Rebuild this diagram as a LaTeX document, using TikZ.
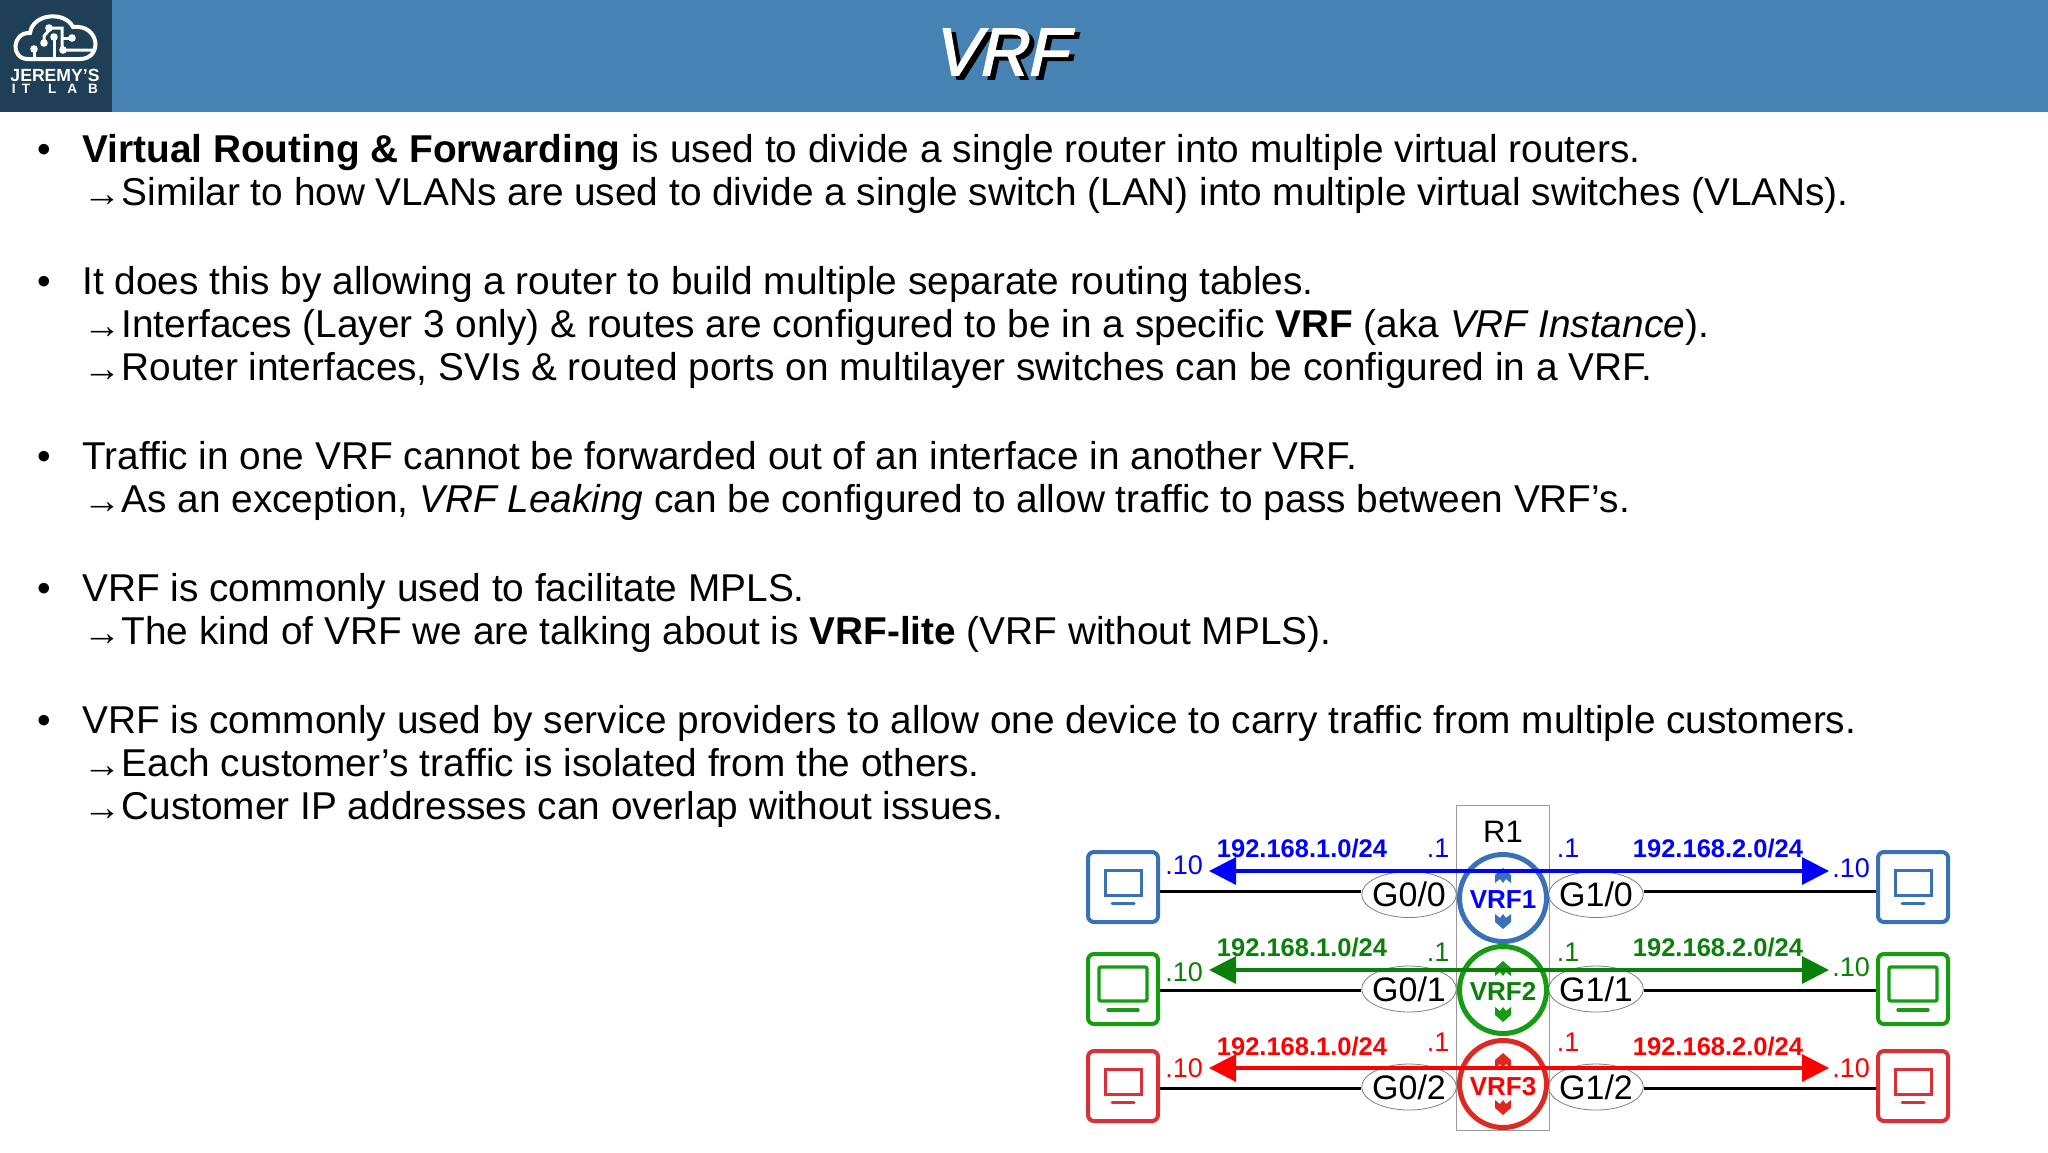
\documentclass[tikz,border=0pt]{standalone}
\usepackage{fontspec}
\setmainfont{Liberation Sans}
\newfontfamily\titlefont[FakeSlant=0.22,FakeBold=2.2]{Liberation Sans}
\usetikzlibrary{arrows.meta, shapes.geometric}
\definecolor{headblue}{HTML}{4682B4}
\definecolor{logodark}{HTML}{1E3F56}
\definecolor{ringblue}{HTML}{3A70B5}
\definecolor{ringgreen}{HTML}{159C12}
\definecolor{ringred}{HTML}{DC2A20}
\definecolor{hostred}{HTML}{DA3138}
\definecolor{flowgreen}{HTML}{0A7F0A}
\newcommand{\arrowmark}{\makebox[19.6pt][c]{\raisebox{-0.6pt}{\fontsize{19}{19}\selectfont →}}}
\tikzset{
	bodyline/.style = {anchor=base west, inner sep=0pt, font=\fontsize{19.4}{24}\selectfont},
	hostbox/.style = {draw, rectangle, rounded corners=3pt, line width=2pt, minimum size=35pt, inner sep=0pt},
	vrfring/.style = {draw, circle, line width=2.5pt, minimum size=43.5pt, inner sep=0pt, font=\fontsize{13}{14}\selectfont\bfseries},
	ifoval/.style = {draw=gray, ellipse, fill=white, line width=0.4pt, minimum width=46pt, minimum height=23pt, inner xsep=-1.7pt, inner ysep=-1pt, font=\fontsize{17}{18}\selectfont},
	netlabel/.style = {inner sep=0pt, font=\fontsize{12.75}{14}\selectfont\bfseries},
	addrlabel/.style = {inner sep=0pt, font=\fontsize{13.5}{14}\selectfont},
	link/.style = {black, line width=1.5pt},
	flow/.style = {line width=1.6pt, {Triangle[length=13.5pt,width=13.5pt]}-{Triangle[length=13.5pt,width=13.5pt]}},
	upmark/.pic = {\path[pic actions] (0,0) -- (8,7) -- (8,15) -- (3,11) -- (0,15) -- (-3,11) -- (-8,15) -- (-8,7) -- cycle;}
}
\begin{document}
\begin{tikzpicture}[x=0.5pt, y=-0.5pt]
	\useasboundingbox (0,0) rectangle (2048,1152);
	\fill[headblue] (0,0) rectangle (2048,112);
	\fill[logodark] (0,0) rectangle (112,112);
	\draw[white, line width=2pt] (28,59) .. controls (10,59) and (12,32) .. (30,33) .. controls (33,13) and (65,11) .. (73,27) .. controls (100,24) and (103,59) .. (80,59) -- cycle;
	\draw[white, line width=1.5pt] (34,49) -- (34,58);
	\draw[white, line width=1.5pt] (44,43) -- (44,36) -- (51,28) -- (62,28) -- (62,50) -- (93,50);
	\draw[white, line width=1.5pt] (54,37) -- (54,58);
	\draw[white, line width=1.5pt] (72,38) -- (62,38);
	\fill[white] (34,49) circle (1.9pt);
	\fill[white] (44,43) circle (1.9pt);
	\fill[white] (49,28) circle (1.9pt);
	\fill[white] (54,37) circle (1.9pt);
	\fill[white] (72,38) circle (1.9pt);
	\fill[white] (63,50) circle (1.9pt);
	\node[text=white, inner sep=0pt, font=\fontsize{8.8}{10}\selectfont\bfseries] (logotop) at (55,75) {JEREMY’S};
	\node[text=white, inner sep=0pt, font=\fontsize{6.8}{8}\selectfont\bfseries] (logobottom) at (55,89) {I\hspace{3pt}T\hspace{9pt}L\hspace{5.5pt}A\hspace{5.5pt}B};
	\node[text=black, inner sep=0pt, font=\fontsize{33.5}{36}\selectfont\titlefont] (titleshade) at (1005,56) {VRF};
	\node[text=white, inner sep=0pt, font=\fontsize{33.5}{36}\selectfont\titlefont] (title) at (1000,52) {VRF};

	\node[bodyline] (bulletA) at (37,162) {•};
	\node[bodyline] (lineA) at (82,162) {\textbf{Virtual Routing \& Forwarding} is used to divide a single router into multiple virtual routers.};
	\node[bodyline] (lineB) at (82,205) {\arrowmark Similar to how VLANs are used to divide a single switch (LAN) into multiple virtual switches (VLANs).};
	\node[bodyline] (bulletB) at (37,294) {•};
	\node[bodyline] (lineC) at (82,294) {It does this by allowing a router to build multiple separate routing tables.};
	\node[bodyline] (lineD) at (82,337) {\arrowmark Interfaces (Layer 3 only) \& routes are configured to be in a specific \textbf{VRF} (aka \textit{VRF Instance}).};
	\node[bodyline] (lineE) at (82,380) {\arrowmark Router interfaces, SVIs \& routed ports on multilayer switches can be configured in a VRF.};
	\node[bodyline] (bulletC) at (37,469) {•};
	\node[bodyline] (lineF) at (82,469) {Traffic in one VRF cannot be forwarded out of an interface in another VRF.};
	\node[bodyline] (lineG) at (82,512) {\arrowmark As an exception, \textit{VRF Leaking} can be configured to allow traffic to pass between VRF’s.};
	\node[bodyline] (bulletD) at (37,601) {•};
	\node[bodyline] (lineH) at (82,601) {VRF is commonly used to facilitate MPLS.};
	\node[bodyline] (lineI) at (82,644) {\arrowmark The kind of VRF we are talking about is \textbf{VRF-lite} (VRF without MPLS).};
	\node[bodyline] (bulletE) at (37,733) {•};
	\node[bodyline] (lineJ) at (82,733) {VRF is commonly used by service providers to allow one device to carry traffic from multiple customers.};
	\node[bodyline] (lineK) at (82,776) {\arrowmark Each customer’s traffic is isolated from the others.};
	\node[bodyline] (lineL) at (82,819) {\arrowmark Customer IP addresses can overlap without issues.};

	\node[draw=gray!80, line width=0.5pt, minimum width=46.5pt, minimum height=162.5pt, inner sep=0pt] (router) at (1502.5,967.5) {};
	\node[inner sep=0pt, font=\fontsize{15.5}{16}\selectfont] (routername) at (1503,832) {R1};

	\node[hostbox, draw=ringblue] (hostAl) at (1123,887) {};
	\node[hostbox, draw=ringgreen] (hostBl) at (1123,989) {};
	\node[hostbox, draw=hostred] (hostCl) at (1123,1086) {};
	\node[hostbox, draw=ringblue] (hostAr) at (1913,887) {};
	\node[hostbox, draw=ringgreen] (hostBr) at (1913,989) {};
	\node[hostbox, draw=hostred] (hostCr) at (1913,1086) {};

	\draw[ringblue, line width=1.5pt] (1105,870) rectangle (1141,895);
	\draw[ringblue, line width=1.5pt, line cap=round] (1112,903) -- (1134,903);
	\draw[ringgreen, line width=1.7pt, rounded corners=1pt] (1099,967) rectangle (1147,1001);
	\draw[ringgreen, line width=1.7pt, line cap=round] (1108,1010) -- (1138,1010);
	\draw[hostred, line width=1.5pt] (1105,1069) rectangle (1141,1094);
	\draw[hostred, line width=1.5pt, line cap=round] (1112,1102) -- (1134,1102);
	\draw[ringblue, line width=1.5pt] (1895,870) rectangle (1931,895);
	\draw[ringblue, line width=1.5pt, line cap=round] (1902,903) -- (1924,903);
	\draw[ringgreen, line width=1.7pt, rounded corners=1pt] (1889,967) rectangle (1937,1001);
	\draw[ringgreen, line width=1.7pt, line cap=round] (1898,1010) -- (1928,1010);
	\draw[hostred, line width=1.5pt] (1895,1069) rectangle (1931,1094);
	\draw[hostred, line width=1.5pt, line cap=round] (1902,1102) -- (1924,1102);

	\node[ifoval] (portAl) at (1409,894.5) {G0/0};
	\node[ifoval] (portBl) at (1409,989) {G0/1};
	\node[ifoval] (portCl) at (1409,1087) {G0/2};
	\node[ifoval] (portAr) at (1596,894.5) {G1/0};
	\node[ifoval] (portBr) at (1596,989) {G1/1};
	\node[ifoval] (portCr) at (1596,1087) {G1/2};

	\coordinate (rowA) at (1300,891);
	\coordinate (rowB) at (1300,990);
	\coordinate (rowC) at (1300,1088);
	\draw[link] (hostAl.east |- rowA) -- (portAl.west |- rowA);
	\draw[link] (hostBl.east |- rowB) -- (portBl.west |- rowB);
	\draw[link] (hostCl.east |- rowC) -- (portCl.west |- rowC);
	\draw[link] (portAr.east |- rowA) -- (hostAr.west |- rowA);
	\draw[link] (portBr.east |- rowB) -- (hostBr.west |- rowB);
	\draw[link] (portCr.east |- rowC) -- (hostCr.west |- rowC);

	\node[vrfring, draw=ringblue, text=blue] (vrfA) at (1503,898) {\raisebox{-0.7pt}[\height][\depth]{VRF1}};
	\node[vrfring, draw=ringgreen, text=flowgreen] (vrfB) at (1503,990) {\raisebox{-0.7pt}[\height][\depth]{VRF2}};
	\node[vrfring, draw=ringred, text=red] (vrfC) at (1503,1084) {\raisebox{-1.4pt}[\height][\depth]{VRF3}};

	\pic[fill=ringblue] at (1503,868) {upmark};
	\pic[fill=ringblue, rotate=180] at (1503,929) {upmark};
	\pic[fill=ringgreen] at (1503,961) {upmark};
	\pic[fill=ringgreen, rotate=180] at (1503,1022) {upmark};
	\pic[fill=ringred] at (1503,1053) {upmark};
	\pic[fill=ringred, rotate=180] at (1503,1115) {upmark};

	\coordinate (endAl) at (1209,871);
	\coordinate (endAr) at (1829,871);
	\coordinate (endBl) at (1209,970);
	\coordinate (endBr) at (1829,970);
	\coordinate (endCl) at (1209,1068);
	\coordinate (endCr) at (1829,1068);
	\draw[flow, blue] (endAl) -- (endAr);
	\draw[flow, flowgreen] (endBl) -- (endBr);
	\draw[flow, red] (endCl) -- (endCr);

	\node[netlabel, text=blue] (netAl) at (1302,848) {192.168.1.0/24};
	\node[netlabel, text=flowgreen] (netBl) at (1302,947) {192.168.1.0/24};
	\node[netlabel, text=red] (netCl) at (1302,1046) {192.168.1.0/24};
	\node[netlabel, text=blue] (netAr) at (1718,848) {192.168.2.0/24};
	\node[netlabel, text=flowgreen] (netBr) at (1718,947) {192.168.2.0/24};
	\node[netlabel, text=red] (netCr) at (1718,1046) {192.168.2.0/24};

	\node[addrlabel, text=blue] (gwAl) at (1438,848) {.1};
	\node[addrlabel, text=flowgreen] (gwBl) at (1438,952) {.1};
	\node[addrlabel, text=red] (gwCl) at (1438,1042) {.1};
	\node[addrlabel, text=blue] (gwAr) at (1568,848) {.1};
	\node[addrlabel, text=flowgreen] (gwBr) at (1568,952) {.1};
	\node[addrlabel, text=red] (gwCr) at (1568,1042) {.1};
	\node[addrlabel, text=blue] (addrAl) at (1184,865) {.10};
	\node[addrlabel, text=flowgreen] (addrBl) at (1184,972) {.10};
	\node[addrlabel, text=red] (addrCl) at (1184,1068) {.10};
	\node[addrlabel, text=blue] (addrAr) at (1851,868) {.10};
	\node[addrlabel, text=flowgreen] (addrBr) at (1851,967) {.10};
	\node[addrlabel, text=red] (addrCr) at (1851,1068) {.10};
\end{tikzpicture}
\end{document}
